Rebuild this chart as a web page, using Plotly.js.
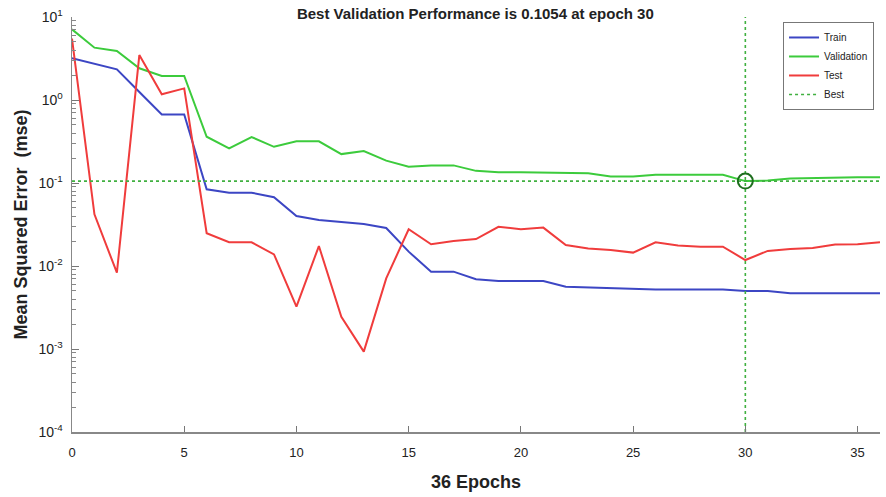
<!DOCTYPE html>
<html>
<head>
<meta charset="utf-8">
<script src="https://cdn.plot.ly/plotly-3.0.1.min.js"></script>
<style>
  html, body { margin: 0; padding: 0; background: #fff; }
  #chart { width: 886px; height: 497px; }
</style>
</head>
<body>
<div id="chart"></div>
<script>
// Training record: mean squared error per epoch
const epochs = Array.from({length: 37}, (_, i) => i);

const train = [3.18, 2.73, 2.34, 1.25, 0.671, 0.671, 0.084, 0.0764, 0.0764, 0.0673,
  0.040, 0.0358, 0.0339, 0.032, 0.0287, 0.0149, 0.00855, 0.00855, 0.00691, 0.00659,
  0.00659, 0.00659, 0.00564, 0.0055, 0.00538, 0.00524, 0.0052, 0.0052, 0.0052, 0.0052,
  0.0050, 0.0050, 0.00469, 0.00469, 0.00469, 0.00469, 0.00469];

const validation = [7.1, 4.27, 3.9, 2.41, 1.95, 1.95, 0.361, 0.262, 0.358, 0.273,
  0.318, 0.318, 0.223, 0.243, 0.186, 0.157, 0.163, 0.163, 0.14, 0.135,
  0.135, 0.133, 0.131, 0.131, 0.12, 0.12, 0.126, 0.126, 0.126, 0.126,
  0.1054, 0.107, 0.113, 0.115, 0.116, 0.117, 0.117];

const test = [5.5, 0.0419, 0.0083, 3.48, 1.17, 1.38, 0.0248, 0.0193, 0.0193, 0.0138,
  0.00324, 0.0174, 0.00245, 0.00093, 0.0071, 0.0277, 0.0183, 0.02, 0.0211, 0.0297,
  0.0277, 0.029, 0.0179, 0.0163, 0.0156, 0.0145, 0.0193, 0.0177, 0.0171, 0.0171,
  0.0118, 0.0152, 0.016, 0.0165, 0.0182, 0.0183, 0.0193];

const bestEpoch = 30;
const bestValue = 0.1054;

const xMax = 36;
const yDecades = [-4, -3, -2, -1, 0, 1];
const xTicks = [0, 5, 10, 15, 20, 25, 30, 35];

// Major and minor log ticks
const yTickVals = yDecades.map(d => Math.pow(10, d));
const yTickText = yDecades.map(d => '10<sup>' + d + '</sup>');
const yMinorVals = [];
yDecades.slice(0, -1).forEach(d => {
  for (let m = 2; m <= 9; m++) yMinorVals.push(m * Math.pow(10, d));
});

const font = 'Liberation Sans, Arial, sans-serif';

const traces = [
  { x: epochs, y: train, name: 'Train', mode: 'lines',
    line: { color: '#3c46c4', width: 2 } },
  { x: epochs, y: validation, name: 'Validation', mode: 'lines',
    line: { color: '#3ccb3c', width: 2 } },
  { x: epochs, y: test, name: 'Test', mode: 'lines',
    line: { color: '#f03c3c', width: 2 } },
  { x: [0, xMax, null, bestEpoch, bestEpoch],
    y: [bestValue, bestValue, null, yTickVals[0], yTickVals[yTickVals.length - 1]],
    name: 'Best', mode: 'lines',
    line: { color: '#40b040', width: 1.6, dash: 'dot' } },
  { x: [bestEpoch], y: [bestValue], mode: 'markers', showlegend: false,
    marker: { symbol: 'circle-open', size: 15, color: '#1d6e1d', line: { width: 2, color: '#1d6e1d' } } }
];

const layout = {
  width: 886, height: 497,
  margin: { l: 72, r: 6, t: 17, b: 65 },
  paper_bgcolor: '#fff', plot_bgcolor: '#fff',
  font: { family: font, color: '#222' },
  title: {
    text: '<b>Best Validation Performance is 0.1054 at epoch 30</b>',
    font: { family: font, size: 15, color: '#222' },
    x: 0.5365, xanchor: 'center', y: 0.972, yanchor: 'middle'
  },
  xaxis: {
    range: [0, xMax],
    tickvals: xTicks,
    ticks: 'inside', ticklen: 6, tickcolor: '#777',
    showline: true, linecolor: '#888', linewidth: 1.5,
    showgrid: false, zeroline: false,
    tickfont: { family: font, size: 13, color: '#222' },
    ticklabelstandoff: 8,
    title: { text: '<b>36 Epochs</b>', font: { family: font, size: 18, color: '#222' }, standoff: 16 }
  },
  yaxis: {
    type: 'log',
    range: [-4, 1],
    tickvals: yTickVals, ticktext: yTickText,
    ticks: 'inside', ticklen: 7, tickcolor: '#777',
    minor: { tickvals: yMinorVals, ticks: 'inside', ticklen: 4, tickcolor: '#888', showgrid: false },
    showline: true, linecolor: '#888', linewidth: 1.5,
    showgrid: false, zeroline: false,
    tickfont: { family: font, size: 14, color: '#222' },
    ticklabelstandoff: 5,
    title: { text: '<b>Mean Squared Error  (mse)</b>', font: { family: font, size: 18, color: '#222' }, standoff: 6 }
  },
  showlegend: true,
  legend: {
    x: 0.88, y: 0.988, xanchor: 'left', yanchor: 'top',
    bgcolor: '#fff', bordercolor: '#777', borderwidth: 1,
    font: { family: font, size: 10, color: '#222' },
    itemwidth: 30, tracegroupgap: 0
  }
};

Plotly.newPlot('chart', traces, layout, { displayModeBar: false, staticPlot: true });
</script>
</body>
</html>
